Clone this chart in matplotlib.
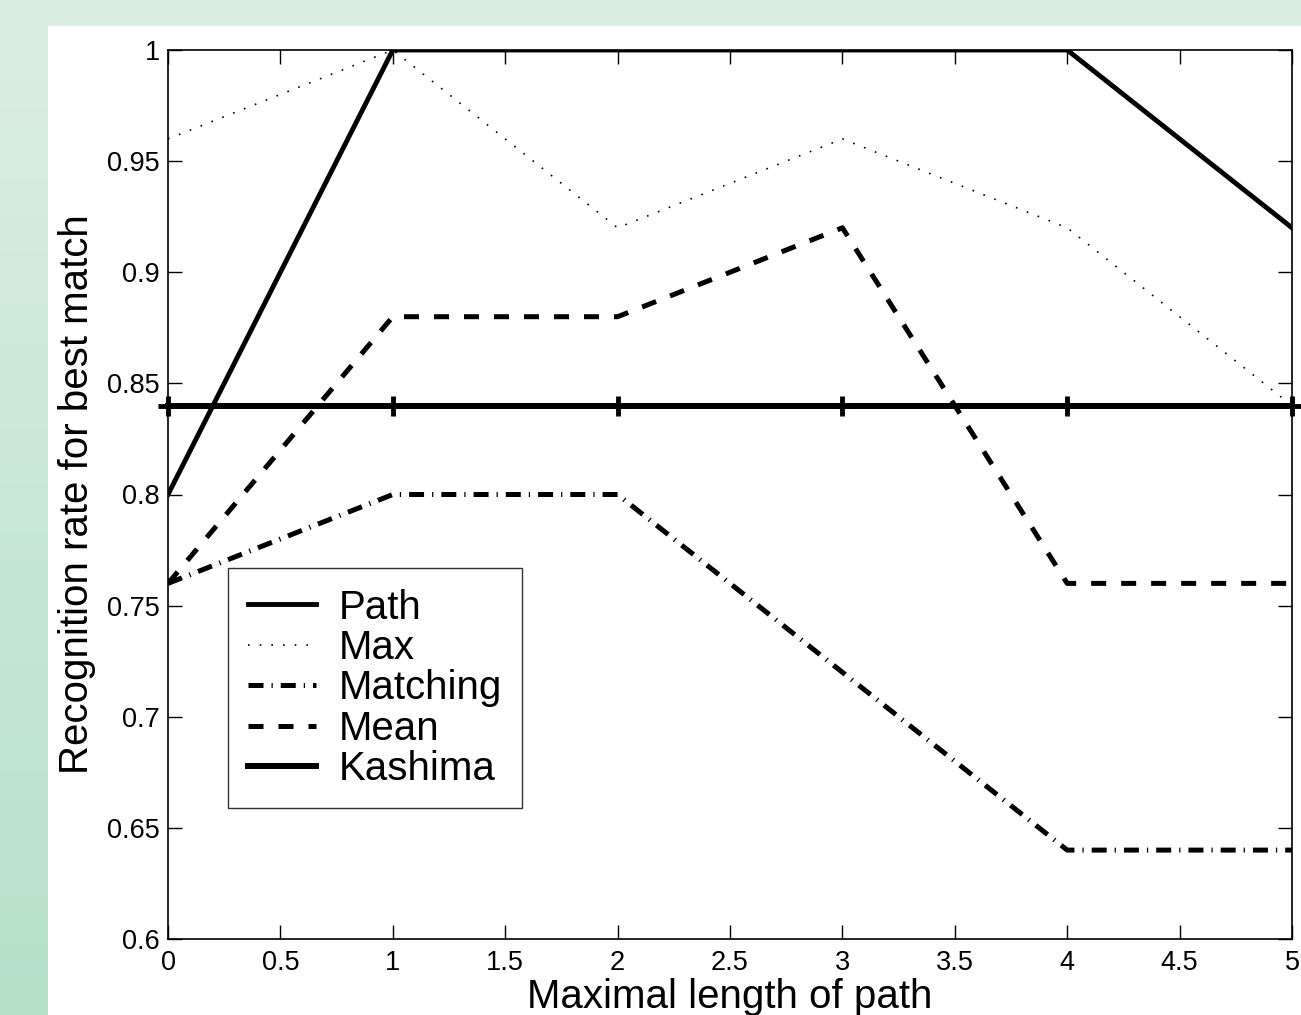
import matplotlib
matplotlib.use("Agg")
import matplotlib.pyplot as plt
import numpy as np
from matplotlib.colors import LinearSegmentedColormap

plt.rcParams['font.family'] = ['Liberation Sans', 'DejaVu Sans']

x = [0, 1, 2, 3, 4, 5]
path = [0.80, 1.00, 1.00, 1.00, 1.00, 0.92]
maxv = [0.96, 1.00, 0.92, 0.96, 0.92, 0.84]
matching = [0.76, 0.80, 0.80, 0.72, 0.64, 0.64]
mean = [0.76, 0.88, 0.88, 0.92, 0.76, 0.76]
kashima = [0.84, 0.84, 0.84, 0.84, 0.84, 0.84]

xticks = [0, 0.5, 1, 1.5, 2, 2.5, 3, 3.5, 4, 4.5, 5]
xticklabels = ['0', '0.5', '1', '1.5', '2', '2.5', '3', '3.5', '4', '4.5', '5']
yticks = [0.6, 0.65, 0.7, 0.75, 0.8, 0.85, 0.9, 0.95, 1.0]
yticklabels = ['0.6', '0.65', '0.7', '0.75', '0.8', '0.85', '0.9', '0.95', '1']

W, H = 1301, 1015
fig = plt.figure(figsize=(W / 100, H / 100), dpi=100, facecolor='white')

# background: green gradient on left strip, light green top strip
bg = fig.add_axes([0, 0, 1, 1], zorder=-10)
bg.axis('off')
cmap = LinearSegmentedColormap.from_list('g', ['#dbeee2', '#b6e1c9'])
grad = np.linspace(0, 1, 256).reshape(-1, 1)
bg.add_patch(plt.Rectangle((0, 0), W, 26, color='#dbeee2', lw=0))
bg.imshow(grad, cmap=cmap, extent=[0, 48, H, 26], aspect='auto')
bg.set_xlim(0, W)
bg.set_ylim(H, 0)

ax = fig.add_axes([168 / W, 1 - 939 / H, (1292 - 168) / W, (939 - 50) / H])
ax.set_facecolor('white')

ax.plot(x, path, color='black', lw=3.5, ls='-', label='Path')
ax.plot(x, maxv, color='black', lw=1.2, ls=(0, (1, 6)), label='Max')
ax.plot(x, matching, color='black', lw=3.6, ls=(0, (3, 1.6, 0.25, 1.6)), label='Matching')
ax.plot(x, mean, color='black', lw=3.6, ls=(0, (3, 3)), label='Mean')
ax.plot(x, kashima, color='black', lw=4.3, ls='-', marker='+', ms=14, mew=3.5,
        label='Kashima', clip_on=False)

ax.set_xlim(0, 5)
ax.set_ylim(0.6, 1.0)
ax.set_xticks(xticks)
ax.set_xticklabels(xticklabels, fontsize=19.5)
ax.set_yticks(yticks)
ax.set_yticklabels(yticklabels, fontsize=19.5)
ax.tick_params(direction='in', length=10, width=1, top=True, right=True,
               colors='black', pad=6)
ax.tick_params(axis='x', pad=8)
for s in ax.spines.values():
    s.set_linewidth(1.2)

ax.set_xlabel('Maximal length of path', fontsize=29, labelpad=1)
ax.set_ylabel('Recognition rate for best match', fontsize=29, labelpad=8)

leg = ax.legend(loc='lower left', bbox_to_anchor=(0.053, 0.147), borderaxespad=0,
                fontsize=29, frameon=True, fancybox=False, edgecolor='black',
                handlelength=1.7, labelspacing=0.06, borderpad=0.5, handletextpad=0.55)
leg.get_frame().set_linewidth(1.0)
for h in leg.legend_handles:
    h.set_marker('')

fig.savefig('out.png', dpi=100, facecolor='white')
